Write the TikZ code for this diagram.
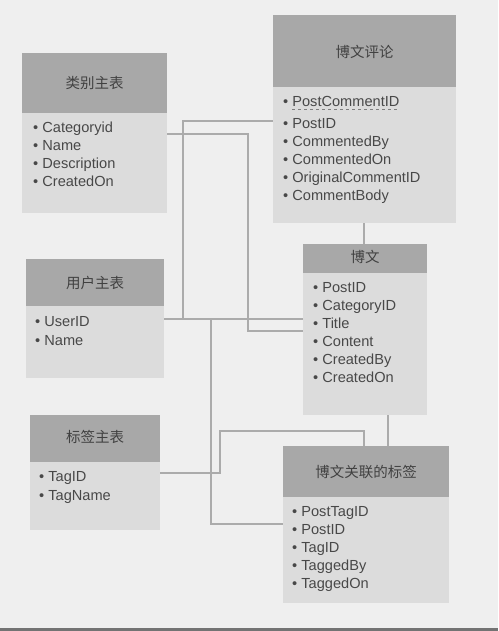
\documentclass[tikz,border=0pt]{standalone}
\usepackage{fontspec}
\setmainfont{Liberation Sans}
\newfontfamily\cjk{Noto Sans CJK SC}
\definecolor{bg}{HTML}{EFEFEF}
\definecolor{hdr}{HTML}{A8A8A8}
\definecolor{bdy}{HTML}{DCDCDC}
\definecolor{txt}{HTML}{484848}
\definecolor{ln}{HTML}{ABABAB}
\tikzset{
  hdrbox/.style={fill=hdr, draw=none},
  bdybox/.style={fill=bdy, draw=none},
  title/.style={font=\cjk\fontsize{14.5}{14.5}\selectfont, text=txt!90!black},
  item/.style={anchor=base west, inner sep=0pt, font=\fontsize{14.6}{14.6}\selectfont, text=txt},
  conn/.style={draw=ln, line width=2.8pt},
}
\begin{document}
\begin{tikzpicture}[x=1pt,y=-1pt]
\useasboundingbox (0,0) rectangle (498,631);
\fill[bg] (0,0) rectangle (498,631);
\fill[black!55] (0,628) rectangle (498,631);

% ---- 类别主表
\path[hdrbox] (22,53) rectangle (167,113);
\path[bdybox] (22,113) rectangle (167,213);
\node[title] (cattitle) at (94.5,83) {类别主表};
\node[item] (cat1) at (33,132.5) {• Categoryid};
\node[item] (cat2) at (33,150.5) {• Name};
\node[item] (cat3) at (33,168.5) {• Description};
\node[item] (cat4) at (33,186.5) {• CreatedOn};
\coordinate (catE) at (167,134);

% ---- 博文评论
\path[hdrbox] (273,15) rectangle (456,87);
\path[bdybox] (273,87) rectangle (456,223);
\node[title] (cmttitle) at (364.5,52) {博文评论};
\node[item] (cmt1) at (283,106.5) {• PostCommentID};
\draw[txt!70, dashed, line width=0.6pt] (292,109.5) -- (cmt1.base east |- 0,109.5);
\node[item] (cmt2) at (283,128.5) {• PostID};
\node[item] (cmt3) at (283,146.5) {• CommentedBy};
\node[item] (cmt4) at (283,164.5) {• CommentedOn};
\node[item] (cmt5) at (283,182.5) {• OriginalCommentID};
\node[item] (cmt6) at (283,200.5) {• CommentBody};
\coordinate (cmtW) at (273,121);
\coordinate (cmtS) at (364,223);

% ---- 博文
\path[hdrbox] (303,244) rectangle (427,273);
\path[bdybox] (303,273) rectangle (427,415);
\node[title] (posttitle) at (365,257) {博文};
\node[item] (post1) at (313,292.5) {• PostID};
\node[item] (post2) at (313,310.5) {• CategoryID};
\node[item] (post3) at (313,328.5) {• Title};
\node[item] (post4) at (313,346.5) {• Content};
\node[item] (post5) at (313,364.5) {• CreatedBy};
\node[item] (post6) at (313,382.5) {• CreatedOn};
\coordinate (postN) at (364,244);
\coordinate (postWa) at (303,319);
\coordinate (postWb) at (303,331);
\coordinate (postS) at (388,415);

% ---- 用户主表
\path[hdrbox] (26,259) rectangle (164,306);
\path[bdybox] (26,306) rectangle (164,378);
\node[title] (usertitle) at (95,283) {用户主表};
\node[item] (user1) at (35,326.5) {• UserID};
\node[item] (user2) at (35,345.5) {• Name};
\coordinate (userE) at (164,319);

% ---- 标签主表
\path[hdrbox] (30,415) rectangle (160,462);
\path[bdybox] (30,462) rectangle (160,530);
\node[title] (tagtitle) at (95,437) {标签主表};
\node[item] (tag1) at (39,481.5) {• TagID};
\node[item] (tag2) at (39,500.5) {• TagName};
\coordinate (tagE) at (160,473);

% ---- 博文关联的标签
\path[hdrbox] (283,446) rectangle (449,497);
\path[bdybox] (283,497) rectangle (449,603);
\node[title] (pttitle) at (366,472) {博文关联的标签};
\node[item] (pt1) at (292,516.5) {• PostTagID};
\node[item] (pt2) at (292,534.5) {• PostID};
\node[item] (pt3) at (292,552.5) {• TagID};
\node[item] (pt4) at (292,570.5) {• TaggedBy};
\node[item] (pt5) at (292,588.5) {• TaggedOn};
\coordinate (ptW) at (283,524);
\coordinate (ptNa) at (364,446);
\coordinate (ptNb) at (388,446);

% ---- connectors
\draw[conn] (catE) -- (248,134) -- (248,331) -- (postWb);
\draw[conn] (userE) -- (postWa);
\draw[conn] (183,319) -- (183,121) -- (cmtW);
\draw[conn] (211,319) -- (211,524) -- (ptW);
\draw[conn] (tagE) -- (220,473) -- (220,431) -- (364,431) -- (ptNa);
\draw[conn] (cmtS) -- (postN);
\draw[conn] (postS) -- (ptNb);
\end{tikzpicture}
\end{document}
